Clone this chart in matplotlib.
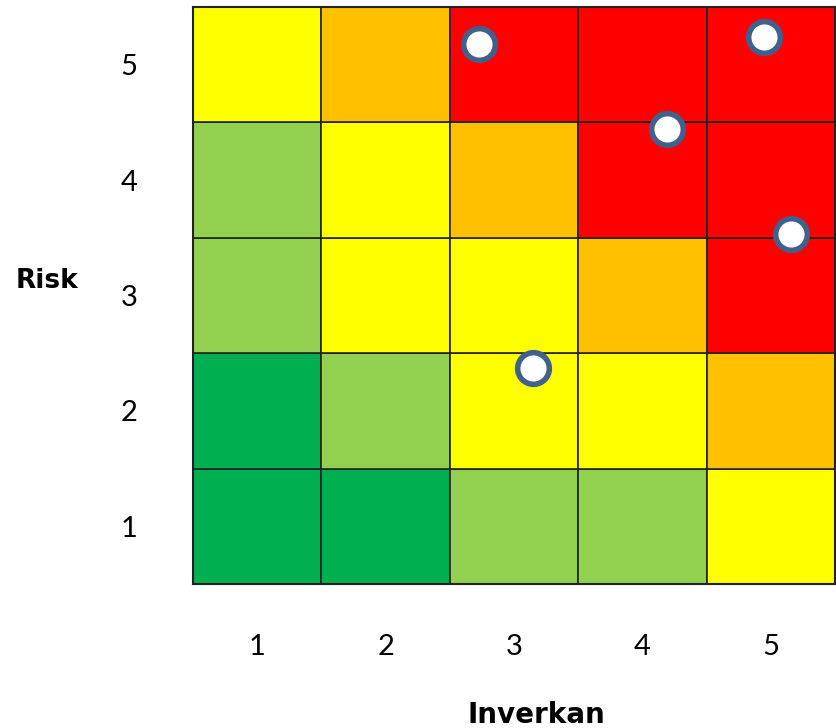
import matplotlib
matplotlib.use('Agg')
import matplotlib.pyplot as plt
import numpy as np

# risk matrix levels, rows = risk 1..5 (bottom to top), cols = impact 1..5
levels = [
    [0, 0, 1, 1, 2],
    [0, 1, 2, 2, 3],
    [1, 2, 2, 3, 4],
    [1, 2, 3, 4, 4],
    [2, 3, 4, 4, 4],
]
level_colors = ['#00B050', '#92D050', '#FFFF00', '#FFC000', '#FF0000']

impact_ticks = [1, 2, 3, 4, 5]
risk_ticks = [1, 2, 3, 4, 5]

# plotted items (impact, risk)
item_x = [2.73, 4.95, 4.19, 5.16, 3.15]
item_y = [5.18, 5.24, 4.44, 3.53, 2.37]

fig = plt.figure(figsize=(8.37, 7.28), dpi=100)
ax = fig.add_axes([193/837, 144/728, 642/837, 577/728])

for r, row in enumerate(levels):
    for c, lv in enumerate(row):
        ax.add_patch(plt.Rectangle((c + 0.5, r + 0.5), 1, 1, facecolor=level_colors[lv],
                                   edgecolor='#222222', linewidth=1.2))

ax.scatter(item_x, item_y, s=520, facecolor='white', edgecolor='#41608C', linewidth=4, zorder=5)

ax.set_xlim(0.5, 5.5)
ax.set_ylim(0.5, 5.5)
ax.set_xticks(impact_ticks)
ax.set_yticks(risk_ticks)
ax.tick_params(length=0, labelsize=21, pad=0)
for lbl in ax.get_xticklabels() + ax.get_yticklabels():
    lbl.set_family('Lato')
ax.tick_params(axis='x', pad=36)
ax.tick_params(axis='y', pad=40)
for s in ax.spines.values():
    s.set_linewidth(1.5)
    s.set_color('#222222')

fig.text(47/837, 1 - 281/728, 'Risk', fontsize=19, fontweight='bold', ha='center', va='center')
fig.text(536/837, 1 - 715/728, 'Inverkan', fontsize=20, fontweight='bold', ha='center', va='center')

fig.savefig('out.png', dpi=100)
